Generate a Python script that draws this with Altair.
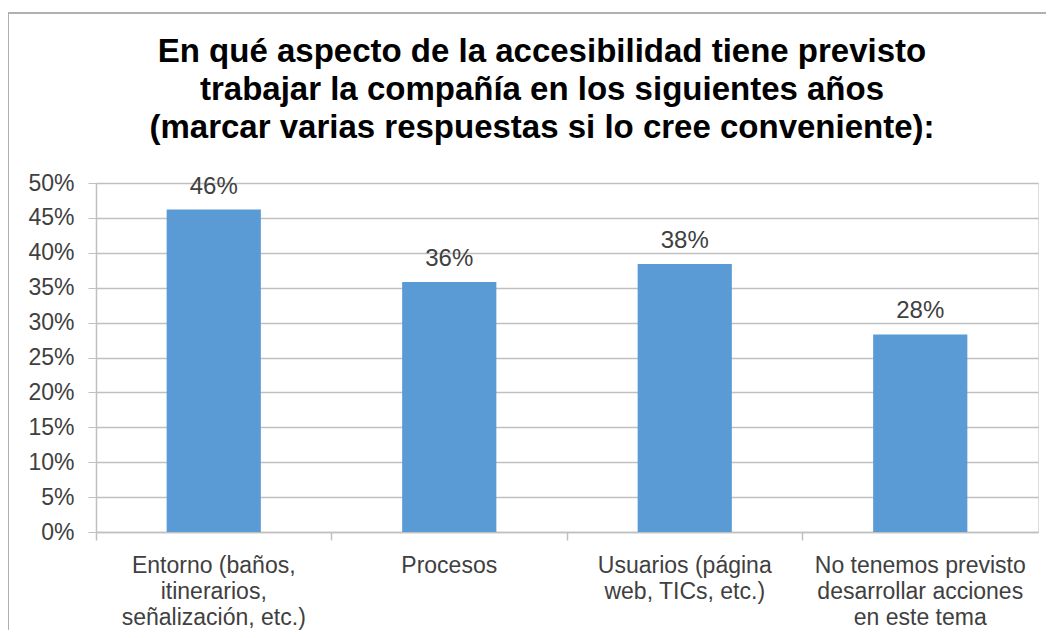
import altair as alt
import pandas as pd

categories = [
    "Entorno (baños,|itinerarios,|señalización, etc.)",
    "Procesos",
    "Usuarios (página|web, TICs, etc.)",
    "No tenemos previsto|desarrollar acciones|en este tema",
]
values = [0.462, 0.358, 0.384, 0.283]
labels = ["46%", "36%", "38%", "28%"]
ticks_y = [0.0, 0.05, 0.10, 0.15, 0.20, 0.25, 0.30, 0.35, 0.40, 0.45, 0.50]

df = pd.DataFrame({"cat": categories, "val": values, "lab": labels})

FONT = "Liberation Sans"
TXT = "#404040"
GRID = "#c0c0c0"

xscale = alt.Scale(paddingInner=0, paddingOuter=0)
yscale = alt.Scale(domain=[0, 0.5], nice=False)

yaxis = alt.Axis(format=".0%", values=ticks_y, labelOverlap=False,
                 labelFont=FONT, labelFontSize=23, labelColor=TXT,
                 labelPadding=14, tickSize=8, tickColor=GRID,
                 domainColor=GRID, domainWidth=1.5, gridColor=GRID,
                 gridWidth=1.5, tickCount=11)

bars = alt.Chart(df).mark_bar(
    color="#5B9BD5", width=alt.RelativeBandSize(0.4)
).encode(
    x=alt.X("cat:N", sort=categories, scale=xscale, title=None,
            axis=alt.Axis(orient="bottom", labelExpr="split(datum.label, '|')", labelAngle=0,
                          labelFont=FONT, labelFontSize=23, labelColor=TXT,
                          labelLineHeight=26, labelPadding=22, ticks=False,
                          domainColor=GRID, domainWidth=1.5, labelLimit=300,
                          labelBaseline="top")),
    y=alt.Y("val:Q", scale=yscale, title=None, axis=yaxis),
)

text = alt.Chart(df).mark_text(
    font=FONT, fontSize=24, color=TXT, baseline="bottom", dy=-11
).encode(
    x=alt.X("cat:N", sort=categories, scale=xscale, title=None,
            axis=alt.Axis(orient="bottom", bandPosition=0, labels=False, domain=False,
                          ticks=True, tickSize=8, tickColor=GRID, tickWidth=1.5)),
    y=alt.Y("val:Q", scale=yscale, title=None, axis=yaxis),
    text="lab:N",
)

border = alt.Chart(df).mark_rule(color="#b0b0b0", strokeWidth=2).encode(
    x=alt.value(-88), x2=alt.value(958), y=alt.value(-170)
)
border2 = alt.Chart(df).mark_rule(color="#b0b0b0", strokeWidth=2).encode(
    x=alt.value(-88), y=alt.value(-170), y2=alt.value(455)
)

chart = alt.layer(bars, text, border, border2).resolve_axis(x="independent").properties(
    width=942,
    height=349,
    autosize=alt.AutoSizeParams(type="none"),
    padding={"left": 88, "top": 175, "right": 8, "bottom": 98},
    title=alt.TitleParams(
        text=["En qué aspecto de la accesibilidad tiene previsto",
              "trabajar la compañía en los siguientes años",
              "(marcar varias respuestas si lo cree conveniente):"],
        font=FONT, fontSize=33, fontWeight="bold", color="#000000",
        lineHeight=38, anchor="middle", dx=-25, baseline="top", offset=-133,
    ),
).configure_view(stroke=None).configure(background="white")

chart.save("out.html", embed_options={"renderer": "svg", "actions": False})
